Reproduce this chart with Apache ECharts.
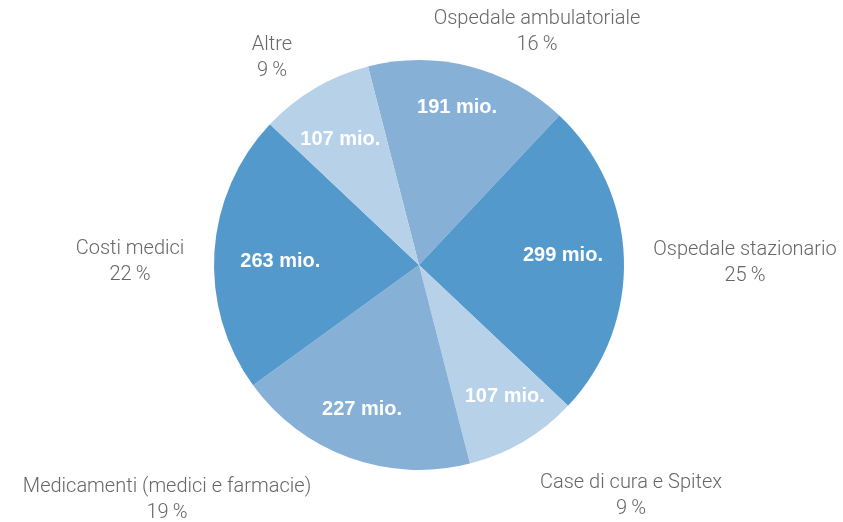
<!DOCTYPE html>
<html><head><meta charset="utf-8">
<script src="https://cdn.jsdelivr.net/npm/echarts@6/dist/echarts.min.js"></script>
<style>html,body{margin:0;padding:0;background:#fff}#c{width:843px;height:522px}</style>
</head><body><div id="c"></div>
<script>
const categories = ['Ospedale ambulatoriale','Ospedale stazionario','Case di cura e Spitex','Medicamenti (medici e farmacie)','Costi medici','Altre'];
const valuesMio = [191, 299, 107, 227, 263, 107];
const percentLabels = ['16', '25', '9', '19', '22', '9'];
const sliceColors = ['#87B0D7','#5499CB','#B7D1E8','#87B0D7','#5499CB','#B7D1E8'];
// label placement (layout only)
const outerLabelPos = [[537,32],[745,263],[631,496],[167,500],[130,262],[272,58]];
const innerLabelShift = [[0,-9],[-9,-5],[8,0],[-5,1],[14,6],[-1,6]];

const CX = 419, CY = 265, R = 205, START = 104.4;
const chart = echarts.init(document.getElementById('c'), null, {renderer:'canvas'});
const transparent = {color:'rgba(0,0,0,0)', borderWidth:0};
const baseData = categories.map((n,i)=>({name:n, value:valuesMio[i]}));
chart.setOption({
  animation:false,
  series:[
    {
      type:'pie', center:[CX,CY], radius:[0,R], startAngle:START, clockwise:true,
      silent:true, label:{show:false}, labelLine:{show:false},
      data: baseData.map((d,i)=>({...d, itemStyle:{color:sliceColors[i], borderWidth:0}}))
    },
    {
      type:'pie', center:[CX,CY], radius:[0,300], startAngle:START, clockwise:true,
      silent:true, itemStyle:transparent, labelLine:{show:false},
      label:{show:true, position:'inside', color:'#fff', fontFamily:'Liberation Sans', fontWeight:'bold', fontSize:20,
        formatter:p=>p.value+' mio.'},
      labelLayout:p=>({dx:innerLabelShift[p.dataIndex][0], dy:innerLabelShift[p.dataIndex][1]}),
      data: baseData
    },
    {
      type:'pie', center:[CX,CY], radius:[0,R], startAngle:START, clockwise:true,
      silent:true, itemStyle:transparent, labelLine:{show:false},
      label:{show:true, position:'outside', color:'#666', fontFamily:'Roboto', fontWeight:300, fontSize:20, lineHeight:26, align:'center', overflow:'none', width:400,
        formatter:p=>p.name+'\n'+percentLabels[p.dataIndex]+'\u2009%'},
      labelLayout:p=>({x:outerLabelPos[p.dataIndex][0], y:outerLabelPos[p.dataIndex][1], align:'center', verticalAlign:'middle'}),
      data: baseData
    }
  ]
});
</script></body></html>
